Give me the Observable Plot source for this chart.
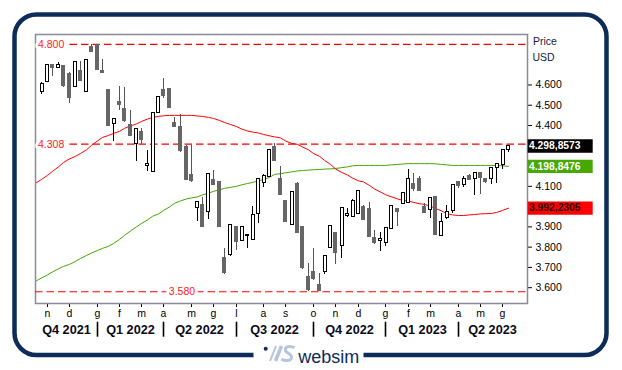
<!DOCTYPE html>
<html>
<head>
<meta charset="utf-8">
<script src="https://cdn.jsdelivr.net/npm/d3@7"></script>
<script src="https://cdn.jsdelivr.net/npm/@observablehq/plot@0.6"></script>
<style>
  html, body { margin: 0; padding: 0; background: white; }
</style>
</head>
<body>
<div id="chart"></div>
<script>
// Weekly candles (index 0 = week of 25 Oct 2021)
const open = [4566,4615,4700,4683,4696,4658,4589,4672,4567,4790,
  4798,4672,4578,4409,4520,4484,4405,4307,4372,4198,
  4172,4463,4578,4583,4417,4395,4297,4159,3991,4011,
  3973,4133,4124,3751,3759,3902,3830,3853,3833,3965,
  4118,4145,4297,4137,4030,3911,4116,3902,3656,3680,
  3616,3677,3797,3871,3805,3955,3948,3965,4001,3992,
  3846,3830,3820,3889,3990,4014,4017,4116,4140,4001,
  3985,4050,3854,3945,3976,4124,4108,4154,4137,4167,
  4137,4137,4192,4207,4277];
const high = [4610,4702,4702,4710,4698,4660,4713,4716,4727,4800,
  4800,4726,4580,4436,4594,4589,4474,4386,4386,4277,
  4465,4545,4632,4585,4441,4455,4299,4302,4026,4047,
  4161,4178,4126,3795,3913,3904,3903,3862,4001,4138,
  4159,4283,4313,4198,4032,4072,4118,3904,3721,3795,
  3672,3756,3904,3873,3996,3991,4034,4078,4003,4022,
  3882,3874,3898,4003,3992,4070,4182,4165,4149,4017,
  4046,4052,3965,4006,4111,4126,4150,4159,4169,4169,
  4139,4194,4215,4283,4301];
const low = [4551,4613,4642,4681,4590,4510,4587,4617,4565,4760,
  4670,4656,4395,4323,4474,4417,4346,4224,4307,4172,
  4170,4461,4532,4482,4390,4269,4129,4121,3928,3897,
  3935,4102,3897,3665,3754,3784,3828,3792,3831,3918,
  4093,4143,4222,4053,3921,3909,3867,3692,3583,3637,
  3580,3664,3795,3715,3746,3945,3946,3963,3930,3847,
  3815,3780,3804,3887,3902,4012,4015,4076,4074,3966,
  3943,3856,3852,3935,3968,4088,4096,4127,4055,4060,
  4114,4109,4113,4182,4269];
const close = [4606,4700,4683,4701,4593,4535,4711,4619,4725,4762,
  4672,4658,4397,4433,4501,4419,4348,4384,4326,4208,
  4463,4542,4545,4484,4392,4271,4131,4123,4024,3899,
  4159,4104,3899,3672,3911,3825,3901,3861,3960,4136,
  4149,4281,4224,4055,3923,4070,3869,3694,3585,3639,
  3582,3754,3902,3770,3994,3965,4027,4075,3932,3849,
  3817,3842,3896,4001,3973,4068,4137,4083,4076,3968,
  4044,3858,3923,3973,4109,4100,4137,4129,4167,4137,
  4121,4192,4208,4281,4298.8573];

// Moving averages (index -1 = week before the first candle)
const maRed = [4118,4134,4154,4174,4196,4218,4235,4248,4262,4280,4302,
  4324,4341,4351,4361,4371,4386,4398,4408,4420,4432,
  4440,4445,4448,4450,4450,4450,4450,4450,4447,4445,
  4440,4435,4425,4415,4405,4395,4383,4373,4368,4363,
  4356,4349,4344,4339,4324,4312,4307,4294,4280,4262,
  4248,4228,4208,4186,4169,4156,4141,4127,4122,4104,
  4087,4072,4059,4048,4038,4031,4027,4021,4014,4011,
  4002,3991,3979,3966,3959,3956,3956,3959,3961,3964,
  3965,3966,3971,3981,3992.2305];
const maGreen = [3634,3648,3663,3678,3693,3705,3715,3730,3744,3759,3771,
  3784,3794,3804,3818,3838,3858,3880,3900,3917,3934,
  3952,3964,3981,3998,4016,4028,4038,4043,4048,4058,
  4067,4075,4083,4090,4095,4100,4107,4114,4119,4127,
  4134,4144,4159,4162,4167,4171,4176,4178,4180,4182,
  4183,4185,4186,4188,4192,4196,4201,4203,4203,4203,
  4203,4203,4203,4206,4208,4210,4212,4212,4212,4212,
  4212,4211,4208,4206,4203,4203,4203,4203,4203,4203,
  4203,4203,4203,4201,4198.8476];

// Axis labels
const monthIdx = [1,5,10,14,18,22,27,31,35,40,44,49,53,57,62,66,70,75,79,83];
const monthLabels = ["n","d","g","f","m","a","m","g","l","a","s","o","n","d","g","f","m","a","m","g"];
const quarterSeps = [10,22,35,49,62,75];
const quarterLabels = ["Q4 2021","Q1 2022","Q2 2022","Q3 2022","Q4 2022","Q1 2023","Q2 2023"];
const yTicks = [3600,3700,3800,3900,4100,4400,4500,4600];
const levels = [4800, 4308, 3580];

const xDomain = [-1.12, 87.5];
const yDomain = [3522, 4849];

const it = d3.formatLocale({decimal: ",", thousands: ".", grouping: [3], currency: ["", ""]});
const f0 = it.format(",.0f");
const f4 = it.format(",.4f");

const data = open.map((o, i) => ({i, open: o, high: high[i], low: low[i], close: close[i], up: close[i] >= o}));
const ups = data.filter(d => d.up);
const downs = data.filter(d => !d.up);
const maData = maRed.map((r, k) => ({i: k - 1, red: r, green: maGreen[k]}));

const bounds = [xDomain[0], ...quarterSeps, xDomain[1]];
const quarters = quarterLabels.map((label, k) => ({label, mid: (bounds[k] + bounds[k + 1]) / 2}));

const lastMa = maData[maData.length - 1];
const boxes = [
  {v: close[close.length - 1], color: "#000000", text: "#ffffff"},
  {v: lastMa.green, color: "#46a800", text: "#ffffff"},
  {v: lastMa.red, color: "#ff0000", text: "#2a0000"}
];

const plot = Plot.plot({
  width: 622,
  height: 370,
  marginLeft: 35,
  marginTop: 34,
  marginRight: 95,
  marginBottom: 67,
  style: {fontFamily: "'Liberation Sans', Arial, sans-serif", fontSize: "10.5px", background: "white", color: "#000", overflow: "visible"},
  x: {type: "linear", domain: xDomain, round: true, ticks: monthIdx, tickFormat: d => monthLabels[monthIdx.indexOf(d)], tickSize: 4, tickPadding: 2, label: null},
  y: {domain: yDomain, axis: "right", ticks: yTicks, tickFormat: f0, tickSize: 4, tickPadding: 4, label: null},
  marks: [
    Plot.frame({stroke: "#8a8a98", strokeWidth: 1.5}),
    Plot.ruleY(levels, {y: d => d, stroke: "#ff0000", strokeWidth: 1.2, strokeDasharray: "7.5,4"}),
    Plot.line(maData, {x: "i", y: "green", stroke: "#44a500", strokeWidth: 1, clip: true}),
    Plot.line(maData, {x: "i", y: "red", stroke: "#ff0000", strokeWidth: 1, clip: true}),
    // wicks
    Plot.ruleX(data, {x: "i", y1: "low", y2: "high", stroke: d => d.up ? "#000" : "#555", strokeWidth: 1, shapeRendering: "crispEdges"}),
    // bodies
    Plot.rect(downs, {x1: d => d.i - 0.36, x2: d => d.i + 0.36, y1: "open", y2: "close", fill: "#666666", shapeRendering: "crispEdges"}),
    Plot.rect(ups, {x1: d => d.i - 0.27, x2: d => d.i + 0.27, y1: "open", y2: "close", fill: "white", stroke: "#000", strokeWidth: 1, shapeRendering: "crispEdges"}),
    // level labels (white halo, then red text)
    Plot.text(levels.slice(0, 2), {y: d => d, text: f0, frameAnchor: "left", dx: 2.5, textAnchor: "start", fill: "white", stroke: "white", strokeWidth: 6}),
    Plot.text(levels.slice(0, 2), {y: d => d, text: f0, frameAnchor: "left", dx: 2.5, textAnchor: "start", fill: "#ff2020"}),
    Plot.text(levels.slice(2), {y: d => d, text: f0, frameAnchor: "left", dx: 133.3, textAnchor: "start", fill: "white", stroke: "white", strokeWidth: 6}),
    Plot.text(levels.slice(2), {y: d => d, text: f0, frameAnchor: "left", dx: 133.3, textAnchor: "start", fill: "#ff2020"}),
    // right value boxes
    Plot.ruleY(boxes, {y: "v", stroke: "color", strokeWidth: 13.3, insetLeft: 492.7, insetRight: -65.7}),
    Plot.text(boxes, {y: "v", text: d => f4(d.v), fill: "text", frameAnchor: "right", dx: 1.5, textAnchor: "start", fontWeight: "bold", fontSize: 10.3}),
    // unit labels
    Plot.text(["Price"], {frameAnchor: "top-right", text: d => d, dx: 5.5, dy: 7, textAnchor: "start", lineAnchor: "middle", fill: "#17213f"}),
    Plot.text(["USD"], {frameAnchor: "top-right", text: d => d, dx: 5, dy: 23, textAnchor: "start", lineAnchor: "middle", fill: "#17213f"}),
    // quarter labels and separators
    Plot.text(quarters, {x: "mid", text: "label", frameAnchor: "bottom", dy: 26.3, lineAnchor: "middle", fontWeight: "bold", fontSize: 12.7, fill: "#0a0a1a"}),
    Plot.ruleX(quarterSeps, {x: d => d, stroke: "#000", strokeWidth: 1.6, insetTop: 287.7, insetBottom: -33.7})
  ]
});

document.getElementById("chart").appendChild(plot);

// Decorative frame and logo
const svg = d3.select(plot);
svg.append("rect")
  .attr("x", 14.5).attr("y", 14.5).attr("width", 592).attr("height", 340.5).attr("rx", 22)
  .attr("fill", "none").attr("stroke", "#0d2c5a").attr("stroke-width", 4.5);
svg.append("rect")
  .attr("x", 253.5).attr("y", 349).attr("width", 110).attr("height", 12).attr("fill", "white");
svg.append("circle").attr("cx", 265.7).attr("cy", 348.7).attr("r", 2).attr("fill", "#0d2c5a");
// logo mark drawn as shapes
const logo = svg.append("g").attr("fill", "none").attr("stroke", "#b6c6da").attr("stroke-linecap", "butt");
logo.append("line").attr("x1", 270).attr("y1", 361).attr("x2", 276).attr("y2", 346).attr("stroke-width", 2);
logo.append("line").attr("x1", 275.5).attr("y1", 361).attr("x2", 281.5).attr("y2", 346).attr("stroke-width", 3.5);
logo.append("path").attr("stroke-width", 3)
  .attr("d", "M294.5,347.8 C290,345.2 284.5,346.5 285.5,350.5 C286.5,354 292.5,353.5 291.5,357.8 C290.5,361.5 284,361 281.5,359");
svg.append("text")
  .attr("x", 298.3).attr("y", 362.7).attr("fill", "#0d2c5a").attr("text-anchor", "start")
  .attr("font-family", "'Liberation Sans', Arial, sans-serif").attr("font-size", 18)
  .text("websim");
</script>
</body>
</html>
